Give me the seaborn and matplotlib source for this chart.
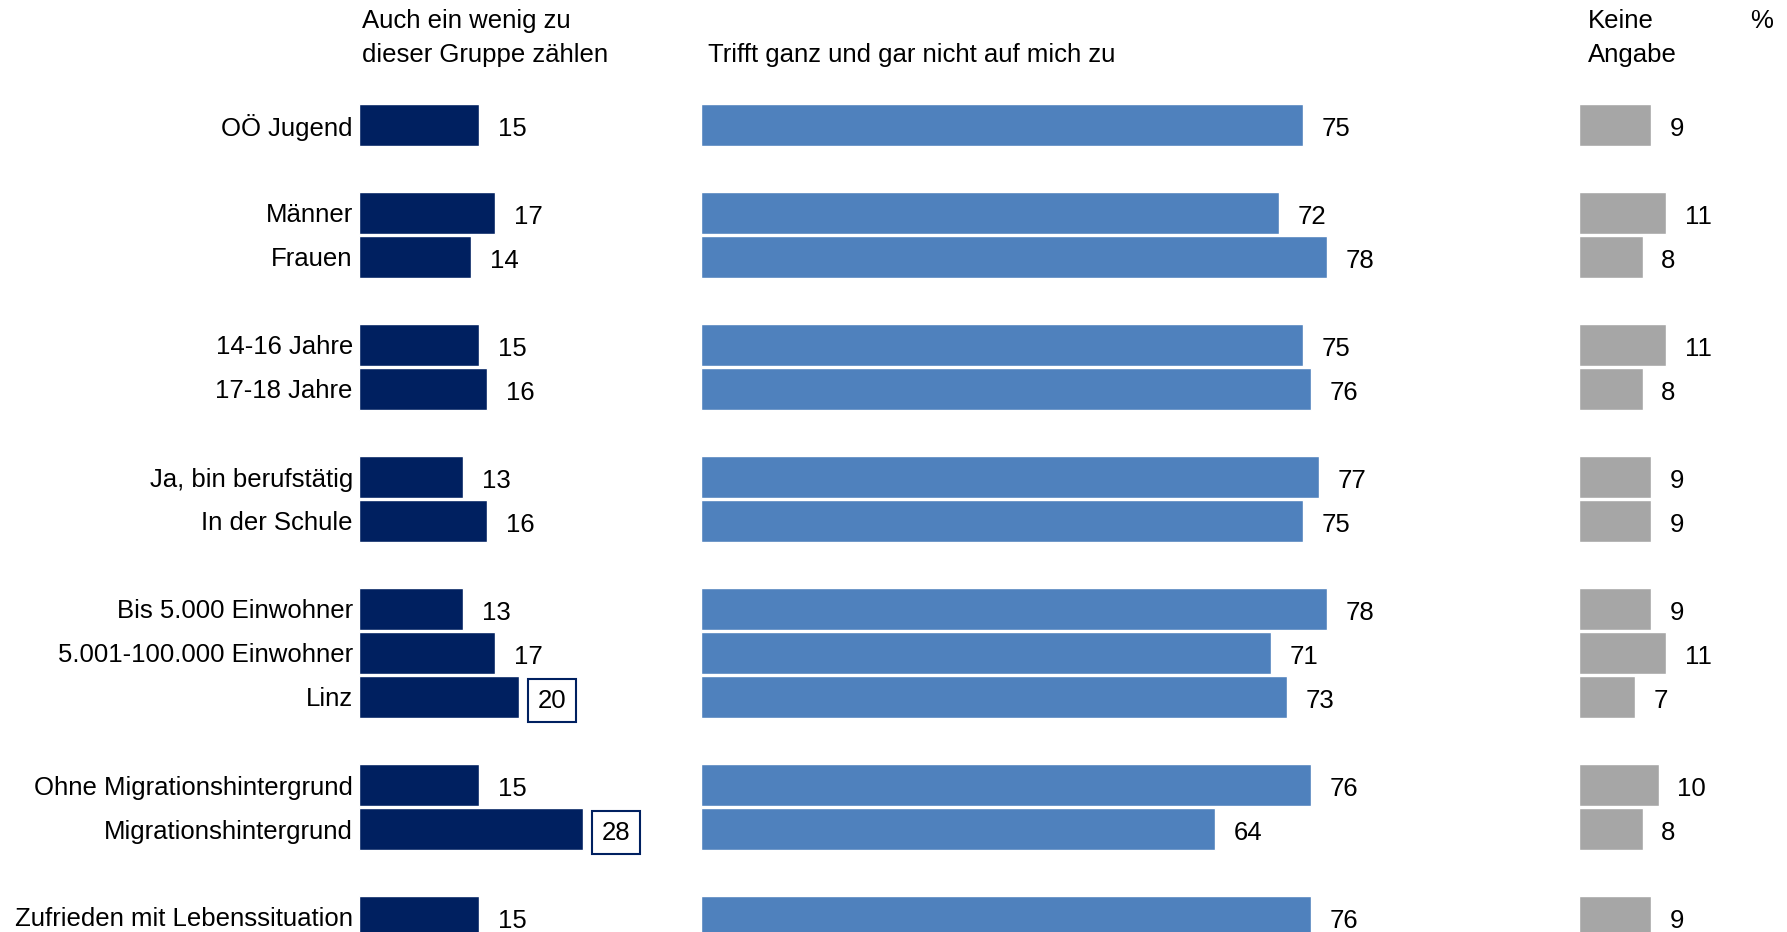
import pandas as pd
import seaborn as sns
import matplotlib.pyplot as plt

# Daten
gruppen = ['OÖ Jugend', 'Männer', 'Frauen', '14-16 Jahre', '17-18 Jahre',
           'Ja, bin berufstätig', 'In der Schule', 'Bis 5.000 Einwohner',
           '5.001-100.000 Einwohner', 'Linz', 'Ohne Migrationshintergrund',
           'Migrationshintergrund', 'Zufrieden mit Lebenssituation']
auch_wenig = [15, 17, 14, 15, 16, 13, 16, 13, 17, 20, 15, 28, 15]
trifft_nicht = [75, 72, 78, 75, 76, 77, 75, 78, 71, 73, 76, 64, 76]
keine_angabe = [9, 11, 8, 11, 8, 9, 9, 9, 11, 7, 10, 8, 9]
hervorgehoben = ['Linz', 'Migrationshintergrund']

# Reihenfolge mit Leerzeilen zwischen den Blöcken
reihenfolge = ['OÖ Jugend', '_l1', 'Männer', 'Frauen', '_l2', '14-16 Jahre', '17-18 Jahre', '_l3',
               'Ja, bin berufstätig', 'In der Schule', '_l4', 'Bis 5.000 Einwohner',
               '5.001-100.000 Einwohner', 'Linz', '_l5', 'Ohne Migrationshintergrund',
               'Migrationshintergrund', '_l6', 'Zufrieden mit Lebenssituation']

df = pd.DataFrame({'gruppe': gruppen, 'auch': auch_wenig,
                   'trifft': trifft_nicht, 'keine': keine_angabe})

sns.set_theme(style='white')
plt.rcParams['font.family'] = ['Liberation Sans', 'DejaVu Sans']
plt.rcParams['text.color'] = 'black'
FS = 18.5

W, H = 1787, 932
fig = plt.figure(figsize=(W / 100, H / 100), dpi=100)
fig.patch.set_facecolor('white')

# Panels: (Spalte, Farbe, linker Rand px, Breite px, px pro Prozent)
panels = [('auch', '#002060', 359, 300, 8.0),
          ('trifft', '#4F81BD', 701, 800, 8.03),
          ('keine', '#A6A6A6', 1579, 208, 7.95)]

for i, (spalte, farbe, links, breite, skala) in enumerate(panels):
    ax = fig.add_axes([links / W, 0, breite / W, 1])
    sns.barplot(data=df, x=spalte, y='gruppe', order=reihenfolge, orient='h',
                color=farbe, width=0.94, saturation=1, ax=ax)
    ax.set_xlim(0, breite / skala)
    ax.set_ylim((H - 125) / 44, -125 / 44)
    ax.set_xlabel('')
    ax.set_ylabel('')
    ax.set_xticks([])
    for s in ax.spines.values():
        s.set_visible(False)
    ax.set_facecolor('none')
    if i == 0:
        ax.set_yticks(range(len(reihenfolge)))
        ax.set_yticklabels(['' if r.startswith('_') else r for r in reihenfolge],
                           fontsize=FS, color='black')
        ax.tick_params(axis='y', length=0, pad=4.5)
    else:
        ax.set_yticks([])
    # Werte beschriften
    for g, v in zip(df['gruppe'], df[spalte]):
        pos = reihenfolge.index(g)
        box = None
        if spalte == 'auch' and g in hervorgehoben:
            box = dict(boxstyle='square,pad=0.37', fc='white', ec='#002060', lw=1.5)
        ax.annotate(str(v), xy=(v, pos), xytext=(13.5, -2.7), textcoords='offset points',
                    va='center', ha='left', fontsize=FS, color='black', bbox=box)

# Überschriften
def kopf(x, y, text):
    fig.text(x / W, 1 - y / H, text, fontsize=FS, va='baseline', ha='left', color='black')

kopf(362, 28, 'Auch ein wenig zu')
kopf(362, 62, 'dieser Gruppe zählen')
kopf(708, 62, 'Trifft ganz und gar nicht auf mich zu')
kopf(1588, 28, 'Keine')
kopf(1588, 62, 'Angabe')
kopf(1750, 28, '%')

plt.savefig('out.png', dpi=100)
